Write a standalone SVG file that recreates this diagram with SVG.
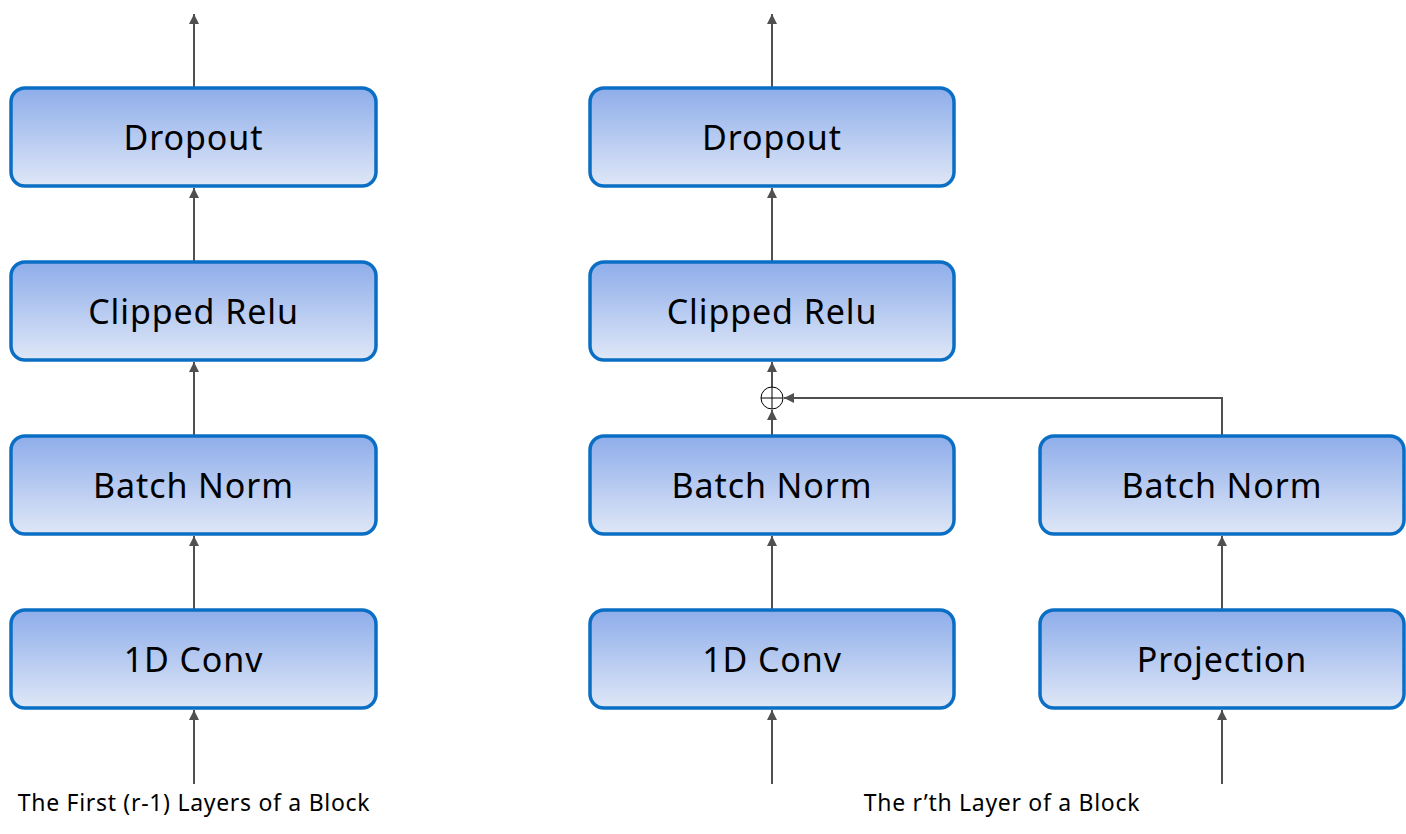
<svg xmlns="http://www.w3.org/2000/svg" width="1406" height="834" viewBox="0 0 1406 834">
<defs>
<linearGradient id="g" x1="0" y1="0" x2="0" y2="1">
<stop offset="0" stop-color="#8eadea"/>
<stop offset="1" stop-color="#dfe7f7"/>
</linearGradient>
<marker id="ah" markerWidth="10" markerHeight="10" refX="10" refY="5" orient="auto" markerUnits="userSpaceOnUse">
<path d="M0,0 L10,5 L0,10 z" fill="#505050"/>
</marker>
<style>
.box{fill:url(#g);stroke:#0a6fc4;stroke-width:3.5}
.lbl{font-family:"Noto Sans","DejaVu Sans",sans-serif;font-size:34px;letter-spacing:0.9px;fill:#000;text-anchor:middle}
.cap{font-family:"Noto Sans","DejaVu Sans",sans-serif;font-size:23px;letter-spacing:0.7px;fill:#000;text-anchor:middle}
.c{stroke:#505050;stroke-width:2;fill:none}
.a{stroke:#505050;stroke-width:2;fill:none;marker-end:url(#ah)}
</style>
</defs>
<g id="connectors">
<line class="a" x1="194" y1="88" x2="194" y2="14"/>
<line class="a" x1="194" y1="262" x2="194" y2="188"/>
<line class="a" x1="194" y1="436" x2="194" y2="362"/>
<line class="a" x1="194" y1="610" x2="194" y2="536"/>
<line class="a" x1="194" y1="784" x2="194" y2="710"/>
<line class="a" x1="772" y1="88" x2="772" y2="14"/>
<line class="a" x1="772" y1="262" x2="772" y2="188"/>
<line class="a" x1="772" y1="387" x2="772" y2="362"/>
<line class="a" x1="772" y1="436" x2="772" y2="410"/>
<line class="a" x1="772" y1="610" x2="772" y2="536"/>
<line class="a" x1="772" y1="784" x2="772" y2="710"/>
<line class="a" x1="1222" y1="610" x2="1222" y2="536"/>
<line class="a" x1="1222" y1="784" x2="1222" y2="710"/>
<polyline class="a" points="1222,436 1222,398 784,398"/>
</g>
<g id="sum">
<circle cx="772" cy="398" r="11" fill="#fff" stroke="#000" stroke-width="1"/>
<line x1="761" y1="398" x2="783" y2="398" stroke="#000" stroke-width="1"/>
<line x1="772" y1="387" x2="772" y2="409" stroke="#000" stroke-width="1"/>
</g>
<g id="l-dropout"><rect class="box" x="11" y="88" width="365" height="98" rx="14"/><text class="lbl" x="193.5" y="150">Dropout</text></g>
<g id="l-relu"><rect class="box" x="11" y="262" width="365" height="98" rx="14"/><text class="lbl" x="193.5" y="324">Clipped Relu</text></g>
<g id="l-bn"><rect class="box" x="11" y="436" width="365" height="98" rx="14"/><text class="lbl" x="193.5" y="498">Batch Norm</text></g>
<g id="l-conv"><rect class="box" x="11" y="610" width="365" height="98" rx="14"/><text class="lbl" x="193.5" y="672">1D Conv</text></g>
<g id="m-dropout"><rect class="box" x="590" y="88" width="364" height="98" rx="14"/><text class="lbl" x="772" y="150">Dropout</text></g>
<g id="m-relu"><rect class="box" x="590" y="262" width="364" height="98" rx="14"/><text class="lbl" x="772" y="324">Clipped Relu</text></g>
<g id="m-bn"><rect class="box" x="590" y="436" width="364" height="98" rx="14"/><text class="lbl" x="772" y="498">Batch Norm</text></g>
<g id="m-conv"><rect class="box" x="590" y="610" width="364" height="98" rx="14"/><text class="lbl" x="772" y="672">1D Conv</text></g>
<g id="r-bn"><rect class="box" x="1040" y="436" width="364" height="98" rx="14"/><text class="lbl" x="1222" y="498">Batch Norm</text></g>
<g id="r-proj"><rect class="box" x="1040" y="610" width="364" height="98" rx="14"/><text class="lbl" x="1222" y="672">Projection</text></g>
<text class="cap" x="194" y="811">The First (r-1) Layers of a Block</text>
<text class="cap" x="1002" y="811">The r’th Layer of a Block</text>
</svg>
